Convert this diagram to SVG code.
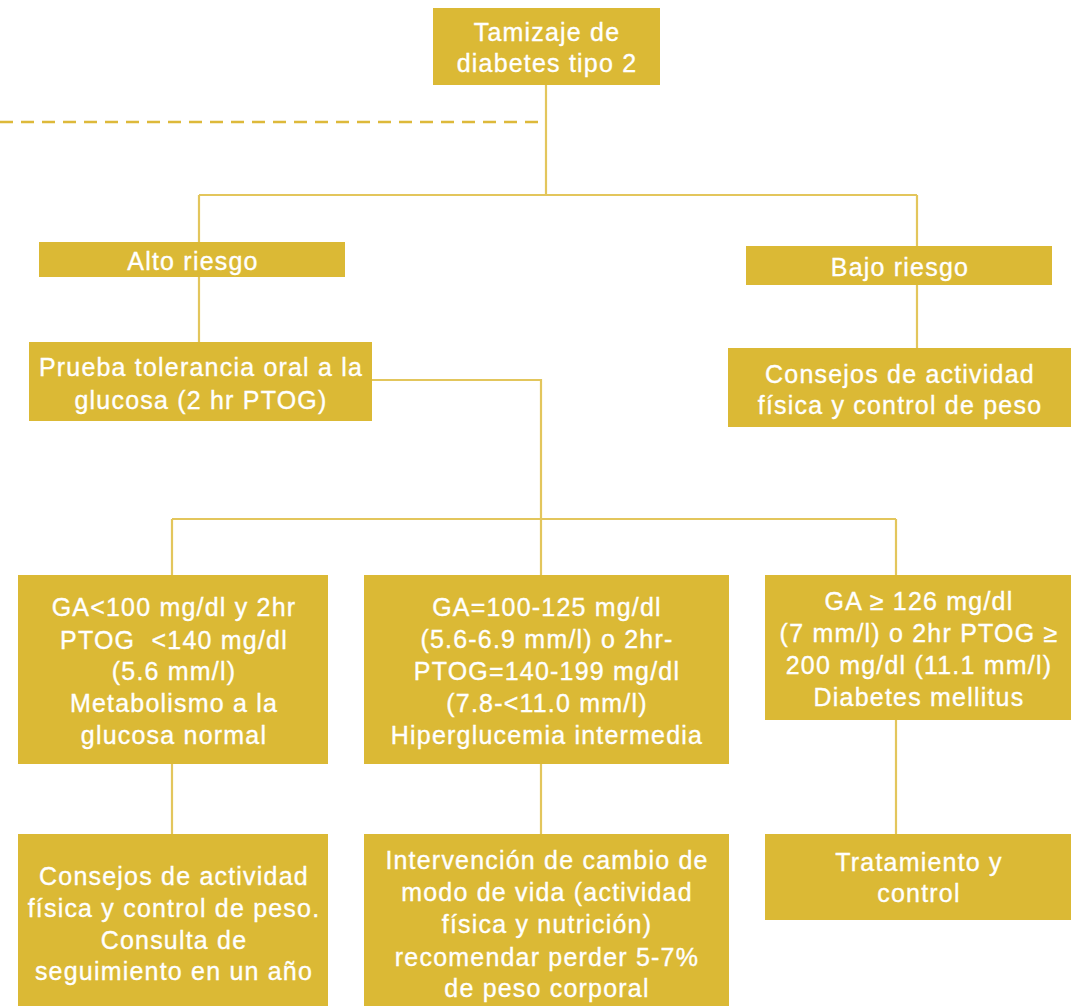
<svg xmlns="http://www.w3.org/2000/svg" width="1076" height="1006" viewBox="0 0 1076 1006">
<style>
.box{fill:#DBB935}
.t{font-family:"Liberation Sans",Arial,sans-serif;font-size:25px;letter-spacing:1.2px;fill:#ffffff;stroke:#ffffff;stroke-width:0.35px;text-anchor:middle}
.c{fill:none;stroke:#E3C65C;stroke-width:2.2}
.d{fill:none;stroke:#DDB93A;stroke-width:2.5;stroke-dasharray:13 8}
</style>
<rect width="1076" height="1006" fill="#ffffff"/>
<g id="connectors">
<line class="d" x1="0" y1="122" x2="543" y2="122"/>
<path class="c" d="M546,85 V195 M199,195 H917 M199,195 V243 M917,195 V247 M199,277 V343 M917,285 V349"/>
<path class="c" d="M372,380 H541 V519 M172,519 H896 M172,519 V576 M541,519 V576 M896,519 V576"/>
<path class="c" d="M172,764 V835 M541,764 V835 M896,720 V835"/>
</g>
<g id="n1"><rect class="box" x="433" y="8" width="227" height="77"/>
<text class="t" x="547" y="41">Tamizaje de</text><text class="t" x="547" y="72">diabetes tipo 2</text></g>
<g id="n2"><rect class="box" x="39" y="242" width="306" height="35"/>
<text class="t" x="193" y="270">Alto riesgo</text></g>
<g id="n3"><rect class="box" x="746" y="246" width="306" height="39"/>
<text class="t" x="900" y="276">Bajo riesgo</text></g>
<g id="n4"><rect class="box" x="29" y="342" width="343" height="79"/>
<text class="t" x="201" y="376">Prueba tolerancia oral a la</text><text class="t" x="201" y="409">glucosa (2 hr PTOG)</text></g>
<g id="n5"><rect class="box" x="728" y="348" width="343" height="79"/>
<text class="t" x="900" y="383">Consejos de actividad</text><text class="t" x="900" y="414">física y control de peso</text></g>
<g id="n6"><rect class="box" x="18" y="575" width="310" height="189"/>
<text class="t" x="174" y="616">GA&lt;100 mg/dl y 2hr</text>
<text class="t" x="174" y="649" xml:space="preserve">PTOG  &lt;140 mg/dl</text>
<text class="t" x="174" y="680">(5.6 mm/l)</text>
<text class="t" x="174" y="712">Metabolismo a la</text>
<text class="t" x="174" y="744">glucosa normal</text></g>
<g id="n7"><rect class="box" x="364" y="575" width="365" height="189"/>
<text class="t" x="547" y="616">GA=100-125 mg/dl</text>
<text class="t" x="547" y="648">(5.6-6.9 mm/l) o 2hr-</text>
<text class="t" x="547" y="680">PTOG=140-199 mg/dl</text>
<text class="t" x="547" y="712">(7.8-&lt;11.0 mm/l)</text>
<text class="t" x="547" y="744">Hiperglucemia intermedia</text></g>
<g id="n8"><rect class="box" x="765" y="575" width="306" height="145"/>
<text class="t" x="919" y="610">GA ≥ 126 mg/dl</text>
<text class="t" x="919" y="642">(7 mm/l) o 2hr PTOG ≥</text>
<text class="t" x="919" y="674">200 mg/dl (11.1 mm/l)</text>
<text class="t" x="919" y="706">Diabetes mellitus</text></g>
<g id="n9"><rect class="box" x="18" y="834" width="310" height="172"/>
<text class="t" x="174" y="885">Consejos de actividad</text>
<text class="t" x="174" y="917">física y control de peso.</text>
<text class="t" x="174" y="949">Consulta de</text>
<text class="t" x="174" y="980">seguimiento en un año</text></g>
<g id="n10"><rect class="box" x="364" y="834" width="365" height="172"/>
<text class="t" x="547" y="869">Intervención de cambio de</text>
<text class="t" x="547" y="901">modo de vida (actividad</text>
<text class="t" x="547" y="933">física y nutrición)</text>
<text class="t" x="547" y="966">recomendar perder 5-7%</text>
<text class="t" x="547" y="997">de peso corporal</text></g>
<g id="n11"><rect class="box" x="765" y="834" width="306" height="86"/>
<text class="t" x="919" y="871">Tratamiento y</text>
<text class="t" x="919" y="902">control</text></g>
</svg>
